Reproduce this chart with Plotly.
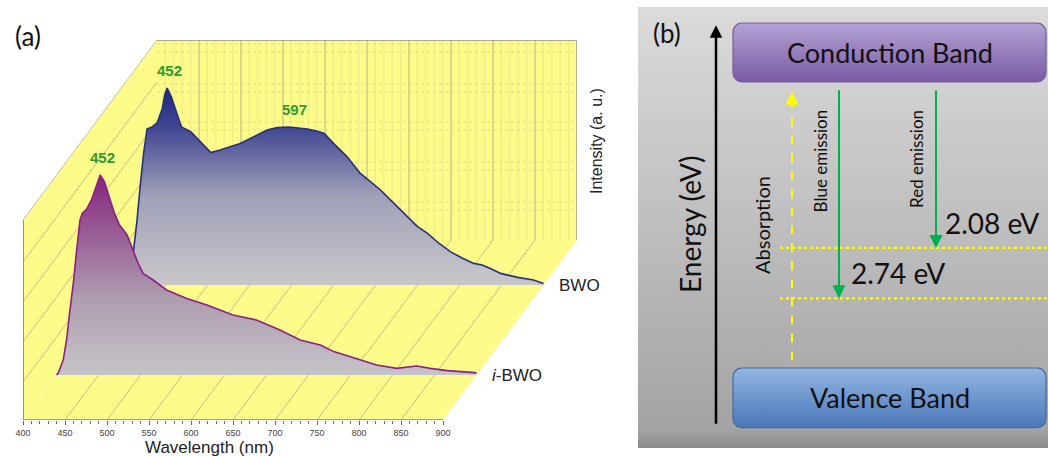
import plotly.graph_objects as go

# ---------------- (a) photoluminescence spectra, normalised intensity (a.u.) ----------------
bwo_wavelength = [400, 406, 410, 413, 416, 420, 424, 428, 434, 440,
                  446, 449, 452, 457, 463, 469, 480, 490, 504, 515,
                  539, 571, 583, 597, 610, 619, 630, 639, 650, 666,
                  682, 694, 706, 722, 738, 750, 762, 775, 789, 803,
                  817, 827, 838, 849, 869, 888, 900]
bwo_intensity = [0, 4, 10, 20, 32, 50, 66, 78, 79, 81,
                 88, 95, 98.5, 94, 86, 79, 76.7, 72.5, 66.2, 67.5,
                 70.8, 77.5, 78.7, 79, 78.5, 78, 77, 75.8, 70.8, 64.2,
                 55.8, 51.7, 47.5, 40.8, 34.2, 29.2, 25.8, 21, 16.7, 13.5,
                 10.8, 10, 8, 5.8, 3.8, 2.5, 0.8]

ibwo_wavelength = [400, 402, 408, 412, 416, 420, 424, 428, 431, 436,
                   442, 447, 452, 457, 463, 469, 475, 484, 491, 497,
                   503, 515, 531, 555, 579, 610, 638, 666, 690, 714,
                   730, 757, 781, 805, 818, 829, 845, 865, 898, 900]
ibwo_intensity = [0, 1, 7.5, 17.5, 32.5, 45.8, 62.5, 77.5, 81, 83,
                  88, 94, 100, 96.7, 89.2, 80.8, 75, 70, 62.5, 56,
                  50.8, 47.5, 42.5, 38.3, 35, 30, 27.5, 22.5, 17.5, 15,
                  11.7, 8.3, 5, 3.3, 4, 4.5, 3.3, 2.2, 1.2, 1]

bwo_peaks = [452, 597]
ibwo_peaks = [452]
wavelength_ticks = list(range(400, 901, 50))

# ---------------- (b) band diagram ----------------
emission_names = ["Blue emission", "Red emission"]
emission_ev = [2.74, 2.08]

# ---------------- figure geometry ----------------
W, H = 1048, 456
PX_PER_NM = 0.84
DN = 134 / PX_PER_NM      # horizontal shift (nm) of the back plane
DU = 90                   # vertical shift (a.u.) of the back plane
WALL = 100                # wall height (a.u.)
X_LO, X_HI = 400, 900

YELLOW = "#fdfb8a"
GRID_MAJOR = "#c9c184"
GRID_MINOR = "#eee88a"
ARIAL = "Liberation Sans, Arial, sans-serif"
CALIBRI = "Lato, 'Open Sans', sans-serif"


def px_x(px):
    return px / W


def px_y(py):
    return 1 - py / H


fig = go.Figure()
shapes = []
annotations = []


def seg(x0, y0, x1, y1, color, width=1, dash="solid", xref="x", yref="y", layer="below"):
    shapes.append(dict(type="line", xref=xref, yref=yref, x0=x0, y0=y0, x1=x1, y1=y1,
                       line=dict(color=color, width=width, dash=dash), layer=layer))


# walls of the waterfall box
floor = f"M {X_LO},0 L {X_HI},0 L {X_HI + DN},{DU} L {X_LO + DN},{DU} Z"
left_wall = f"M {X_LO},0 L {X_LO},{WALL} L {X_LO + DN},{DU + WALL} L {X_LO + DN},{DU} Z"
back_wall = f"M {X_LO + DN},{DU} L {X_HI + DN},{DU} L {X_HI + DN},{DU + WALL} L {X_LO + DN},{DU + WALL} Z"
for p in (floor, left_wall, back_wall):
    shapes.append(dict(type="path", path=p, xref="x", yref="y", fillcolor=YELLOW,
                       line=dict(width=0), layer="below"))

# back wall grid
for w in range(410, 900, 10):
    if w % 50:
        seg(w + DN, DU, w + DN, DU + WALL, GRID_MINOR, 1)
for lvl in (15, 19, 35, 39, 55, 59, 74, 78, 94, 98):
    seg(X_LO + DN, DU + lvl, X_HI + DN, DU + lvl, "#e2da88", 1, "dot")
for w in range(450, 900, 50):
    seg(w + DN, DU, w + DN, DU + WALL, GRID_MAJOR, 1.2)
# floor grid (depth direction)
for w in range(450, 900, 50):
    seg(w, 0, w + DN, DU, GRID_MAJOR, 1)
# left wall grid (depth direction)
for lvl in (19, 39, 59, 79):
    seg(X_LO, lvl, X_LO + DN, DU + lvl, GRID_MAJOR, 1)

# box edges
seg(X_LO + DN, DU + WALL, X_HI + DN, DU + WALL, "#8f8f8f", 1.5)
seg(X_HI + DN, DU, X_HI + DN, DU + WALL, "#9a9a9a", 1.5)
seg(X_LO, WALL, X_LO + DN, DU + WALL, "#c4c4b0", 1)
seg(X_LO, 0, X_HI, 0, "#555555", 1.2)
seg(X_LO, 0, X_LO, WALL, "#555555", 1.2)

# spectra, back to front
series = [
    ("BWO", bwo_wavelength, bwo_intensity, 0.75, "#26307f",
     [[0, "#c8c8ca"], [0.45, "#a0a0b8"], [0.8, "#414692"], [1, "#20267a"]], bwo_peaks),
    ("<i>i</i>-BWO", ibwo_wavelength, ibwo_intensity, 0.25, "#8c1f8a",
     [[0, "#c6c4c8"], [0.4, "#ad9aae"], [0.75, "#965592"], [1, "#86237f"]], ibwo_peaks),
]
for name, wl, inten, depth, edge, cscale, peaks in series:
    xs = [w + depth * DN for w in wl]
    ys = [v + depth * DU for v in inten]
    fig.add_trace(go.Scatter(
        x=xs + [xs[-1], xs[0]], y=ys + [depth * DU, depth * DU],
        fill="toself", mode="lines", line=dict(width=0),
        fillgradient=dict(type="vertical", colorscale=cscale),
        hoverinfo="skip", showlegend=False, xaxis="x", yaxis="y"))
    fig.add_trace(go.Scatter(
        x=xs, y=ys, mode="lines", line=dict(color=edge, width=1.6),
        hoverinfo="skip", showlegend=False, xaxis="x", yaxis="y"))
    for pk in peaks:
        i = wl.index(pk)
        annotations.append(dict(x=xs[i], y=ys[i], xref="x", yref="y", text=f"<b>{pk}</b>",
                                showarrow=False, yanchor="bottom", yshift=7,
                                xshift=6 if pk == 597 else 2,
                                font=dict(family=ARIAL, size=15, color="#2f9a2f")))
    annotations.append(dict(x=xs[-1], y=depth * DU, xref="x", yref="y", text=name,
                            showarrow=False, xanchor="left", yanchor="middle",
                            xshift=13, font=dict(family=ARIAL, size=17, color="#222222")))

annotations += [
    dict(x=(X_LO + X_HI) / 2, y=px_y(447), xref="x", yref="paper", text="Wavelength (nm)",
         showarrow=False, xanchor="center", yanchor="middle", xshift=-24,
         font=dict(family=ARIAL, size=17, color="#222222")),
    dict(x=px_x(596), y=px_y(141), xref="paper", yref="paper", text="Intensity (a. u.)",
         textangle=-90, showarrow=False, xanchor="center", yanchor="middle",
         font=dict(family=ARIAL, size=16, color="#222222")),
    dict(x=px_x(28), y=px_y(36), xref="paper", yref="paper", text="(a)",
         showarrow=False, xanchor="center", yanchor="middle",
         font=dict(family=CALIBRI, size=26, color="#111111")),
]

# ---------------- (b) band diagram, vertical axis in eV ----------------
EV_LO, EV_HI = -1.046, 4.719
CB = (3.74, 4.51)
VB = (-0.78, 0.0)
BX0, BX1 = 733, 1046
EV_PER_PX = (EV_HI - EV_LO) / 441
TAIL = 3.65


def rounded_box(x0, x1, y0, y1, rx, ry, n=8):
    import math
    pts = []
    corners = [(x1 - rx, y1 - ry, 0), (x0 + rx, y1 - ry, 90), (x0 + rx, y0 + ry, 180), (x1 - rx, y0 + ry, 270)]
    for cx, cy, a0 in corners:
        for k in range(n + 1):
            a = math.radians(a0 + 90 * k / n)
            pts.append((cx + rx * math.cos(a), cy + ry * math.sin(a)))
    pts.append(pts[0])
    return [p[0] for p in pts], [p[1] for p in pts]


fig.add_trace(go.Scatter(
    x=[638, 1048, 1048, 638, 638], y=[EV_LO, EV_LO, EV_HI, EV_HI, EV_LO],
    fill="toself", mode="lines", line=dict(width=0),
    fillgradient=dict(type="vertical",
                      colorscale=[[0, "#8a8a8a"], [0.04, "#a3a3a3"], [0.5, "#bebebe"], [1, "#dbdbdb"]]),
    hoverinfo="skip", showlegend=False, xaxis="x2", yaxis="y2"))

for (b0, b1), cs, edge in [
    (CB, [[0, "#7a5aa5"], [1, "#b3a3d3"]], "#765a9c"),
    (VB, [[0, "#4a77b8"], [1, "#93b6e2"]], "#3f6aa3"),
]:
    bx, by = rounded_box(BX0, BX1, b0, b1, 9, 9 * EV_PER_PX)
    fig.add_trace(go.Scatter(
        x=bx, y=by, fill="toself", mode="lines", line=dict(width=1.2, color=edge),
        fillgradient=dict(type="vertical", colorscale=cs),
        hoverinfo="skip", showlegend=False, xaxis="x2", yaxis="y2"))

# absorption: dashed yellow arrow
ABS_X, ABS_LO, ABS_HI = 792, 0.10, 3.61
fig.add_trace(go.Scatter(
    x=[ABS_X, ABS_X], y=[ABS_LO, ABS_HI - 0.08], mode="lines",
    line=dict(color="#ffff00", width=2, dash="dash"),
    hoverinfo="skip", showlegend=False, xaxis="x2", yaxis="y2"))
annotations.append(dict(x=ABS_X, y=ABS_HI, ax=ABS_X, ay=ABS_HI - 0.15, xref="x2", yref="y2",
                        axref="x2", ayref="y2", text="", showarrow=True, arrowhead=2,
                        arrowsize=1.3, arrowwidth=2, arrowcolor="#ffff00"))

# energy axis arrow
annotations.append(dict(x=716, y=4.48, ax=716, ay=-0.75, xref="x2", yref="y2", axref="x2",
                        ayref="y2", text="", showarrow=True, arrowhead=2, arrowsize=1,
                        arrowwidth=2.5, arrowcolor="#000000"))

# emission arrows, levels and labels
em_x = [839, 936]
label_x = [849, 943]
for name, ev, x, lx in zip(emission_names, emission_ev, em_x, label_x):
    tip = TAIL - ev
    annotations.append(dict(x=x, y=tip, ax=x, ay=TAIL, xref="x2", yref="y2", axref="x2",
                            ayref="y2", text="", showarrow=True, arrowhead=2, arrowsize=1.3,
                            arrowwidth=2, arrowcolor="#00b050"))
    seg(780, tip, 1048, tip, "#ffff00", 2.4, "dot", "x2", "y2", "above")
    annotations.append(dict(x=lx, y=tip, xref="x2", yref="y2", text=f"{ev:.2f} eV",
                            showarrow=False, xanchor="left", yanchor="middle", yshift=25,
                            font=dict(family=CALIBRI, size=28, color="#111111")))
    annotations.append(dict(x=x - 19, y=TAIL - 0.25, xref="x2", yref="y2", text=name,
                            textangle=-90, showarrow=False, yanchor="top",
                            font=dict(family=CALIBRI, size=17, color="#111111")))

annotations += [
    dict(x=(BX0 + BX1) / 2, y=sum(CB) / 2, xref="x2", yref="y2", text="Conduction Band",
         showarrow=False, font=dict(family=CALIBRI, size=27, color="#111111")),
    dict(x=(BX0 + BX1) / 2, y=sum(VB) / 2, xref="x2", yref="y2", text="Valence Band",
         showarrow=False, font=dict(family=CALIBRI, size=27, color="#111111")),
    dict(x=690, y=1.87, xref="x2", yref="y2", text="Energy (eV)", textangle=-90,
         showarrow=False, font=dict(family=CALIBRI, size=28, color="#111111")),
    dict(x=762, y=1.87, xref="x2", yref="y2", text="Absorption", textangle=-90,
         showarrow=False, font=dict(family=CALIBRI, size=20, color="#111111")),
    dict(x=667, y=4.38, xref="x2", yref="y2", text="(b)",
         showarrow=False, font=dict(family=CALIBRI, size=26, color="#111111")),
]

fig.update_layout(
    template="none",
    width=W, height=H, margin=dict(l=0, r=0, t=0, b=0, pad=0, autoexpand=False),
    paper_bgcolor="white", plot_bgcolor="rgba(0,0,0,0)",
    showlegend=False, shapes=shapes, annotations=annotations,
    xaxis=dict(domain=[px_x(23), px_x(577)], range=[X_LO, X_LO + 554 / PX_PER_NM],
               tickvals=wavelength_ticks, ticks="outside", ticklen=4, tickwidth=1,
               tickcolor="#666666", tickfont=dict(family=ARIAL, size=9, color="#444444"),
               showgrid=False, zeroline=False, showline=False, anchor="y", fixedrange=True,
               automargin=False,
               minor=dict(tickvals=[w for w in range(410, 900, 10) if w % 50],
                          ticks="outside", ticklen=2.5, tickcolor="#777777", showgrid=False)),
    yaxis=dict(domain=[px_y(420), px_y(40)], range=[0, 190], visible=False, fixedrange=True,
               automargin=False),
    xaxis2=dict(domain=[px_x(638), 1], range=[638, 1048], visible=False, anchor="y2",
                fixedrange=True, automargin=False),
    yaxis2=dict(domain=[px_y(448), px_y(7)], range=[EV_LO, EV_HI], visible=False,
                anchor="x2", fixedrange=True, automargin=False),
)

fig.write_html("out.html")
